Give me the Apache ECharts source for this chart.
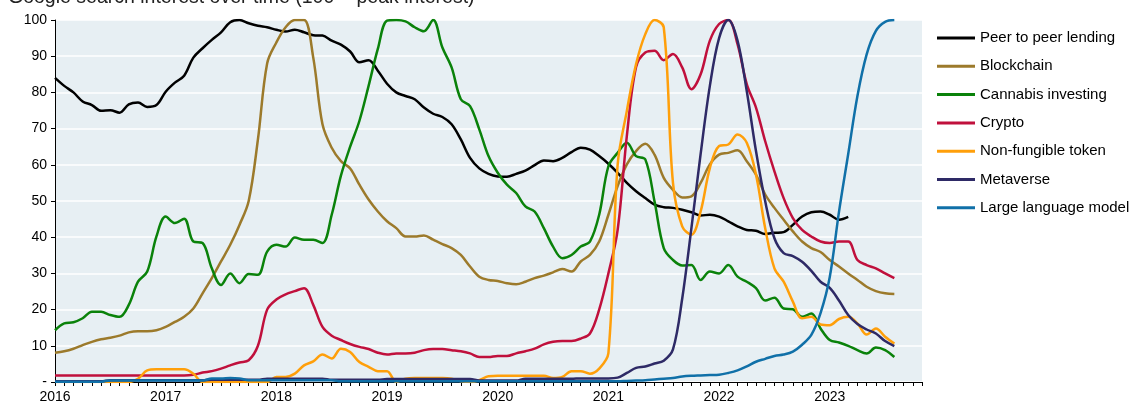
<!DOCTYPE html>
<html>
<head>
<meta charset="utf-8">
<script src="https://cdn.jsdelivr.net/npm/echarts@6/dist/echarts.min.js"></script>
<style>
html,body{margin:0;padding:0;background:#fff;}
#chart{width:1134px;height:406px;}
</style>
</head>
<body>
<div id="chart"></div>
<script>
const years = ['2016','2017','2018','2019','2020','2021','2022','2023'];
// monthly categories Jan 2016 .. Nov 2023
const categories = [];
years.forEach(function (y, i) {
  const last = (i === years.length - 1) ? 11 : 12;
  for (let m = 1; m <= last; m++) categories.push(y + '-' + (m < 10 ? '0' + m : '' + m));
});

const seriesNames = ['Peer to peer lending','Blockchain','Cannabis investing','Crypto','Non-fungible token','Metaverse','Large language model'];

const peer = [84,81.8,80,77.5,76.5,74.9,75.1,74.4,76.7,77.2,76,76.5,
80.2,82.7,84.6,89.6,92.2,94.5,96.6,99.4,100,99.1,98.4,98,
97.3,96.8,97.3,96.6,95.8,95.7,94.3,93.2,91.3,88.3,88.9,86,
82.4,80,79,78.1,75.8,74.1,73.2,71.2,67,61.9,59,57.5,
56.8,56.7,57.5,58.4,59.9,61.2,61,61.9,63.5,64.7,64.2,62.4,
60.3,57.8,55,52.7,50.8,49,48.3,48.1,47.6,46.9,46,46.2,
45.7,44.4,43,42,41.8,40.9,41.2,41.4,43.4,45.7,46.9,47.1,
46.2,44.8,45.6];

const blockchain = [8.1,8.5,9.2,10.2,11.1,11.8,12.2,12.8,13.7,14,14,14.3,
15.2,16.6,18,20.3,24.5,28.7,33.3,37.9,43.4,50,67,88,
93.8,98,100,100,89.6,71.2,64.7,61,59,54.5,50.4,47.1,
44.4,42.5,40.2,40.2,40.5,39.3,38.1,37,35.1,31.9,29.1,28.2,
27.9,27.3,27,27.7,28.7,29.4,30.3,31.2,30.5,33.3,35.1,38.8,
46.2,54.1,60.1,63.8,65.8,62.8,56.4,53.1,51,51.3,55,60.1,
62.8,63.3,64,61,57.3,51.8,48.1,44.8,41.6,38.8,37,35.9,
33.7,31.9,30,28.2,26.3,25.1,24.5,24.3];

const cannabis = [14.3,16.2,16.5,17.6,19.4,19.4,18.5,18,21.3,27.7,30.5,40.2,
45.7,43.9,45.1,38.8,38.4,31.4,26.8,30,27.3,29.8,29.6,36,
37.9,37.4,39.9,39.3,39.3,38.4,46.2,57,65,72.1,81.8,92,
99.8,100,99.6,98,96.9,100,92.4,86.9,78.1,76.2,69.8,62.4,
57.8,54.5,52.2,48.5,47.1,42.5,37.4,34.2,35.1,37.4,38.8,46.2,
59.6,63.3,66.1,62.4,61.5,49.9,37,33.7,32.2,32.3,28.2,30.5,
30,32.3,29.1,27.7,25.9,22.5,23.3,20.3,20.1,18,18.9,14.8,
11.6,10.9,10,8.8,7.9,9.5,8.8,6.9];

const crypto = [1.8,1.8,1.8,1.8,1.8,1.8,1.8,1.8,1.8,1.8,1.8,1.8,
1.8,1.8,1.8,2,2.6,3,3.7,4.6,5.4,6,10,20,
22.8,24.2,25.1,25.9,21.3,15.2,12.8,11.6,10.5,9.7,9.1,8.1,
7.6,7.9,7.9,8.1,8.8,9.1,9.1,8.8,8.5,7.9,6.9,6.9,
7.2,7.2,7.9,8.5,9.2,10.4,11.1,11.3,11.3,12,13.4,20,
30,42,68,87,91,91.5,88.9,90.6,86.9,80.9,85,94.3,
98.9,100,93.3,82.3,75.8,66.5,58.2,50.8,45.3,42,40.2,38.8,
38.4,38.8,38.8,33.7,32.3,31.4,30,28.7];

const nft = [0,0,0,0,0,0,0,0,0,0.9,3.2,3.5,
3.5,3.5,3.5,2.3,0,0,0,0,0,0,0,0,
1.4,1.4,2.3,4.6,5.7,7.6,6.5,9.2,8.3,5.5,4.2,3,
3,0,0.9,1.1,1.1,1.1,1.1,0.9,0.2,0,0.5,1.6,
1.7,1.7,1.7,1.7,1.7,1.7,1.1,1.4,3,3,2.3,3.7,
8,60,74.9,87.8,96.1,100,98,55,43,40.7,47.1,59.1,
65.2,65.6,68.4,66.1,57.3,42.5,31.4,27.7,22.2,17.6,18,15.9,
15.7,17.4,18,16.2,13.1,14.8,12.5,10.6];

const metaverse = [0.2,0.2,0.2,0.2,0.2,0.2,0.5,0.5,0.5,0.5,0.5,0.5,
0.5,0.5,0.5,0.5,0.5,0.6,0.6,0.6,0.6,0.6,0.6,0.9,
0.9,0.9,0.9,0.9,0.9,0.9,0.6,0.6,0.6,0.6,0.6,0.6,
0.8,0.8,0.8,0.8,0.8,0.8,0.8,0.8,0.8,0.8,0.4,0.4,
0.4,0.4,0.4,0.9,0.9,0.9,0.9,0.9,0.9,1,1,1,
1,1.2,2.5,3.9,4.3,5.1,5.9,9,23,42.5,63,81.8,
95,100,94.3,80.4,63.8,49.9,39.7,35.6,34.8,33.2,30.7,27.7,
26,22.5,18.5,16,14.5,13.4,11.3,9.9];

const llm = [0.1,0.1,0.1,0.1,0.1,0.1,0.4,0.4,0.4,0.4,0.4,0.4,
0.4,0.4,0.4,0.4,0.4,1,1,1.1,1,0.5,0.5,0.5,
0.5,0.5,0.5,0.5,0.5,0.5,0.5,0.2,0.2,0.2,0.2,0.2,
0.2,0.2,0.2,0.2,0.2,0.2,0.2,0.2,0.2,0.2,0.2,0.2,
0.2,0.2,0.2,0.2,0.2,0.2,0.2,0.2,0.2,0.2,0.2,0.2,
0.2,0.2,0.3,0.4,0.5,0.7,0.9,1.1,1.5,1.7,1.8,1.9,
2,2.5,3.2,4.3,5.6,6.4,7.2,7.6,8.4,10.3,13,19,
29,47,63,79,90.5,97,99.5,100];

const yTicks = [0,10,20,30,40,50,60,70,80,90,100];
const colors = ['#000000','#9C7A2B','#0A820A','#C0103C','#FF9F0A','#2E2A66','#1070A8'];
const allData = [peer, blockchain, cannabis, crypto, nft, metaverse, llm];

const chart = echarts.init(document.getElementById('chart'), null, {renderer: 'canvas'});
const font = 'Arial, "Liberation Sans", sans-serif';

chart.setOption({
  animation: false,
  color: colors,
  title: {
    text: 'Google search interest over time (100 = peak interest)',
    left: 3, top: -17,
    textStyle: {fontFamily: font, fontSize: 19.5, fontWeight: 'normal', color: '#222'}
  },
  grid: {
    left: 55, right: 212, top: 20, bottom: 24,
    show: true, backgroundColor: '#E7EFF3', borderWidth: 0
  },
  legend: {
    orient: 'vertical', left: 932, top: 25,
    icon: 'rect', itemWidth: 38, itemHeight: 3, itemGap: 12.3,
    textStyle: {fontFamily: font, fontSize: 15, color: '#000', lineHeight: 16},
    data: seriesNames
  },
  xAxis: {
    type: 'category', data: categories, boundaryGap: false,
    axisLine: {lineStyle: {color: '#000', width: 1}},
    axisTick: {show: true, interval: 0, length: 4, lineStyle: {color: '#000'}},
    axisLabel: {
      interval: function (i) { return i % 12 === 0; },
      formatter: function (v) { return v.slice(0, 4); },
      fontFamily: font, fontSize: 14, color: '#000', margin: 8
    },
    splitLine: {show: false}
  },
  yAxis: {
    type: 'value', min: yTicks[0], max: yTicks[yTicks.length - 1], interval: 10,
    axisLine: {show: true, lineStyle: {color: '#000', width: 1}},
    axisTick: {show: true, length: 4, lineStyle: {color: '#000'}},
    axisLabel: {
      formatter: function (v) { return v === 0 ? '-' : String(v); },
      fontFamily: font, fontSize: 14, color: '#000', margin: 8
    },
    splitLine: {show: true, lineStyle: {color: '#ffffff', width: 1.5}}
  },
  series: seriesNames.map(function (name, i) {
    return {
      name: name, type: 'line', data: allData[i],
      smooth: 0.35, symbol: 'none', clip: true,
      lineStyle: {width: 2.5, color: colors[i]},
      itemStyle: {color: colors[i]}
    };
  })
});
</script>
</body>
</html>
